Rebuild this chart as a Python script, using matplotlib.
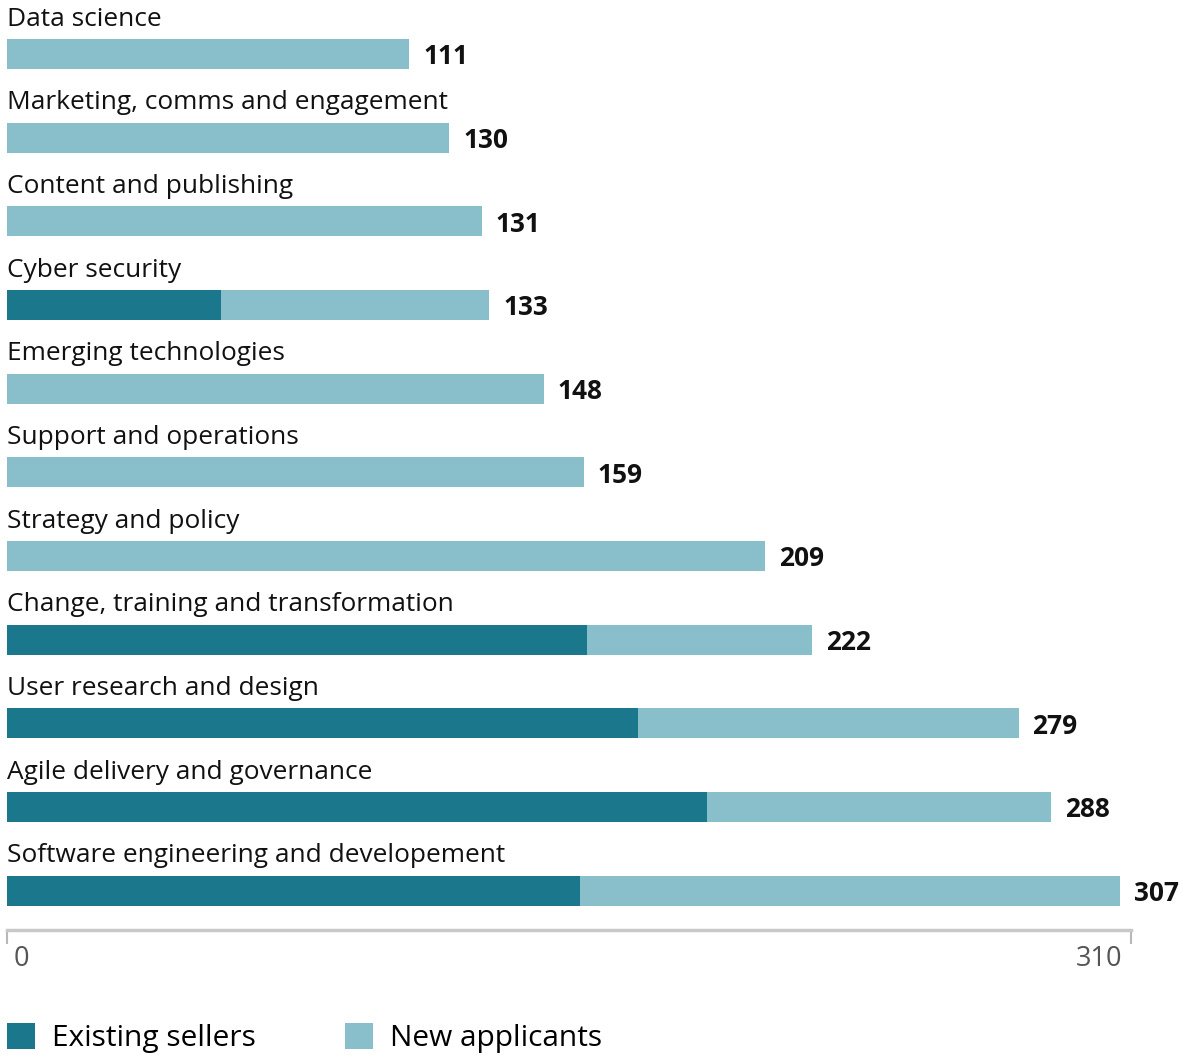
import matplotlib
matplotlib.use("Agg")
import matplotlib.pyplot as plt
import numpy as np

categories = [
    "Data science",
    "Marketing, comms and engagement",
    "Content and publishing",
    "Cyber security",
    "Emerging technologies",
    "Support and operations",
    "Strategy and policy",
    "Change, training and transformation",
    "User research and design",
    "Agile delivery and governance",
    "Software engineering and developement",
]
# printed totals
totals = [111, 130, 131, 133, 148, 159, 209, 222, 279, 288, 307]
# bar lengths as drawn in the source (marketing bar is drawn short of its label)
bar_totals = [111, 122, 131, 133, 148, 159, 209, 222, 279, 288, 307]
existing_sellers = [0, 0, 0, 59, 0, 0, 0, 160, 174, 193, 158]
new_applicants = [t - e for t, e in zip(bar_totals, existing_sellers)]
axis_max = 310

DARK = "#1b778b"
LIGHT = "#88bfcb"

plt.rcParams["font.family"] = ["Open Sans", "DejaVu Sans"]

fig = plt.figure(figsize=(11.83, 10.55), dpi=100)
ax = fig.add_axes([7 / 1183, 125 / 1055, 1124 / 1183, 930 / 1055])

y = np.arange(len(categories))
h = 0.36
ax.barh(y, existing_sellers, height=h, color=DARK, label="Existing sellers")
ax.barh(y, new_applicants, left=existing_sellers, height=h, color=LIGHT,
        label="New applicants")

for i, (cat, tot, bt) in enumerate(zip(categories, totals, bar_totals)):
    ax.text(0, i - 0.34, cat, fontsize=18.9, color="#111111", va="baseline", ha="left")
    ax.annotate(str(tot), (bt, i), xytext=(10, -2), textcoords="offset points",
                fontsize=18.9, fontweight="bold", va="center", ha="left", color="#111111")

ax.set_xlim(0, axis_max)
ax.set_ylim(len(categories) - 1 + 0.47, -0.645)

for side in ("top", "right", "left"):
    ax.spines[side].set_visible(False)
ax.spines["bottom"].set_color("#c8c8c8")
ax.spines["bottom"].set_linewidth(2.5)
ax.set_yticks([])
ax.set_xticks([0, axis_max])
ax.set_xticklabels(["0", str(axis_max)], fontsize=19.5, color="#555555")
ax.tick_params(axis="x", length=10, width=1.5, color="#b8b8b8", pad=1)
lbls = ax.get_xticklabels()
lbls[0].set_ha("left")
lbls[1].set_ha("right")
offs = [matplotlib.transforms.ScaledTranslation(5 / 72, 0, fig.dpi_scale_trans),
        matplotlib.transforms.ScaledTranslation(-6 / 72, 0, fig.dpi_scale_trans)]
for lb, off in zip(lbls, offs):
    lb.set_transform(lb.get_transform() + off)

fig.legend(loc="lower left", bbox_to_anchor=(0.0006, -0.0038), ncol=2, frameon=False,
           fontsize=21.5, handlelength=0.94, handleheight=0.94, handletextpad=0.57,
           columnspacing=3.0, borderaxespad=0.2, borderpad=0.0)

fig.savefig("out.png", dpi=100)
